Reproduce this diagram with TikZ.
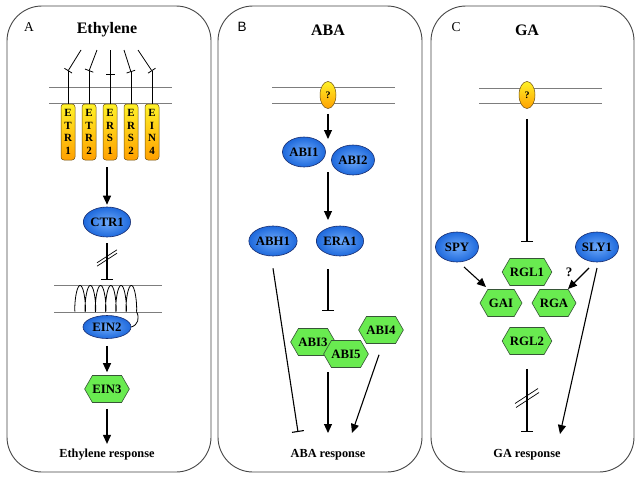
\documentclass[tikz,border=0pt]{standalone}
\usepackage{fontspec}
\setmainfont{Liberation Serif}
\newfontfamily\labsans{Liberation Sans}
\usetikzlibrary{arrows.meta,shapes.geometric,shapes.symbols,calc}
\definecolor{panelc}{RGB}{70,70,70}
\definecolor{memb}{RGB}{125,125,125}
\definecolor{blueo}{RGB}{25,45,110}
\definecolor{bluein}{RGB}{110,170,250}
\definecolor{blueout}{RGB}{30,105,220}
\definecolor{greenf}{RGB}{105,235,80}
\definecolor{greeno}{RGB}{55,85,55}
\definecolor{yelt}{RGB}{255,242,40}
\definecolor{yelm}{RGB}{255,215,10}
\definecolor{yelb}{RGB}{255,160,0}
\definecolor{yelo}{RGB}{110,80,20}
\newcommand{\lblfont}{\bfseries\fontsize{12.8}{14}\selectfont}
\tikzset{
  panel/.style={draw=panelc, line width=0.9pt, rounded corners=35pt},
  membrane/.style={draw=memb, line width=0.9pt},
  prot/.style={ellipse, draw=blueo, line width=0.6pt, inner sep=0pt,
    minimum width=43pt, minimum height=30pt, inner color=bluein,
    outer color=blueout, font=\lblfont},
  hexa/.style={signal, signal to=east and west, signal pointer angle=120,
    draw=greeno, line width=0.6pt, fill=greenf, inner sep=0pt,
    minimum width=42pt, minimum height=27pt, font=\lblfont},
  recep/.style={rectangle, rounded corners=3pt, draw=yelo, line width=0.5pt,
    top color=yelt, middle color=yelm, bottom color=yelb, minimum width=14pt,
    minimum height=56pt, inner sep=0pt, align=center,
    font=\bfseries\fontsize{11}{12.7}\selectfont},
  qmark/.style={ellipse, draw=yelo, line width=0.5pt, top color=yelt,
    middle color=yelm, bottom color=yelb, minimum width=16pt, minimum height=27pt,
    inner sep=0pt, font=\bfseries\fontsize{10}{12}\selectfont},
  arr/.style={line width=1.1pt, -{Triangle[length=9pt,width=8pt]}},
  inh/.style={line width=1.1pt, -{Bar[width=12pt,line width=1.1pt]}},
  thininh/.style={line width=0.8pt, -{Bar[width=9pt,line width=0.8pt]}},
  conn/.style={line width=0.8pt},
  heading/.style={font=\bfseries\fontsize{16}{18}\selectfont},
  plabel/.style={font=\fontsize{13.5}{15}\selectfont},
  resp/.style={font=\bfseries\fontsize{12.3}{14}\selectfont}
}
\begin{document}
\begin{tikzpicture}[x=1pt,y=-1pt]
\useasboundingbox (0,0) rectangle (640,479);
\fill[white] (0,0) rectangle (640,479);

% ---------- panels
\draw[panel] (7,6) rectangle (211,472);
\draw[panel] (218,6) rectangle (422,472);
\draw[panel] (431,6) rectangle (634,472);

% ---------- panel A
\node[plabel] (labA) at (29,27) {A};
\node[heading] (hA) at (107,30) {Ethylene};
\draw[membrane] (49,87) -- (172,87);
\draw[membrane] (49,103) -- (172,103);
\coordinate (i1) at (81,50);  \coordinate (b1) at (68,71);
\coordinate (i2) at (97,50);  \coordinate (b2) at (89,71);
\coordinate (i3) at (110,50); \coordinate (b3) at (110,75);
\coordinate (i4) at (124,50); \coordinate (b4) at (131,72);
\coordinate (i5) at (138,50); \coordinate (b5) at (152,71);
\foreach \k in {1,...,5} {\draw[thininh] (i\k) -- (b\k);}
\node[recep] (r1) at (68,132) {E\\T\\R\\1};
\node[recep] (r2) at (89,132) {E\\T\\R\\2};
\node[recep] (r3) at (110,132) {E\\R\\S\\1};
\node[recep] (r4) at (131,132) {E\\R\\S\\2};
\node[recep] (r5) at (152,132) {E\\I\\N\\4};
\foreach \k in {1,...,5} {\draw[conn] (b\k) -- (r\k.north);}
\node[prot] (ctr) at (107,222) {CTR1};
\draw[arr] ($(r3.south)+(-3,7)$) -- ([yshift=2pt]ctr.north);
\draw[membrane] (54,285) -- (162,285);
\draw[membrane] (54,312) -- (162,312);
\coordinate (ibA) at (107,280);
\draw[inh] ($(ctr.south)+(0,6)$) -- (ibA);
\coordinate (slA) at (107,258);
\draw[line width=0.7pt] ($(slA)+(-10,4.8)$) -- ($(slA)+(10,-8.2)$);
\draw[line width=0.7pt] ($(slA)+(-10,8.2)$) -- ($(slA)+(10,-4.8)$);
\draw[line width=0.8pt] plot[domain=0:37.699, samples=400, smooth]
  ({75+1.63*\x-2.1*sin(\x r)}, {298.5+13*cos(\x r)});
\coordinate (ce) at (136.45,311.5);
\node[prot, minimum width=48pt, minimum height=23pt] (ein2) at (107,327) {EIN2};
\draw[line width=0.8pt] (ce) .. controls (140,318) and (138,325) .. (ein2.east);
\node[hexa] (ein3) at (107,389) {EIN3};
\draw[arr] ($(ein2.south)+(0,7)$) -- ([yshift=3pt]ein3.north);
\node[resp] (respA) at (107,455) {Ethylene response};
\draw[arr] ($(ein3.south)+(0,6)$) -- ([yshift=2pt]respA.north);

% ---------- panel B
\node[font=\labsans\fontsize{13.5}{15}\selectfont] (labB) at (242,27) {B};
\node[heading] (hB) at (328,30) {ABA};
\draw[membrane] (272,87) -- (395,87);
\draw[membrane] (272,103) -- (395,103);
\node[qmark] (q1) at (328,95) {?};
\node[prot] (abi1) at (304,152) {ABI1};
\node[prot] (abi2) at (353,160) {ABI2};
\coordinate (ab1) at (328,139);
\draw[arr] ($(q1.south)+(0,5)$) -- (ab1);
\node[prot] (abh1) at (273,241) {ABH1};
\node[prot] (era1) at (340,241) {ERA1};
\coordinate (ab2s) at (328,172);
\coordinate (ab2e) at (328,220);
\draw[arr] (ab2s) -- (ab2e);
\coordinate (eras) at (328,269);
\coordinate (erae) at (328,311);
\draw[inh] (eras) -- (erae);
\node[hexa] (abi3) at (313,342) {ABI3};
\node[hexa] (abi5) at (346,354) {ABI5};
\node[hexa] (abi4) at (381,330) {ABI4};
\node[resp] (respB) at (328,455) {ABA response};
\coordinate (abhe) at (298,432);
\draw[inh] ($(abh1.south)+(0,12)$) -- (abhe);
\coordinate (abr1) at (328,433);
\draw[arr] (328,372) -- (abr1);
\coordinate (abr2) at (352,433);
\draw[arr] ($(abi4.south)+(-2,11)$) -- (abr2);

% ---------- panel C
\node[plabel] (labC) at (456,27) {C};
\node[heading] (hC) at (527,30) {GA};
\draw[membrane] (479,88) -- (602,88);
\draw[membrane] (479,103) -- (602,103);
\node[qmark] (q2) at (527,95) {?};
\coordinate (gab) at (527,242);
\draw[inh] ($(q2.south)+(0,10)$) -- (gab);
\node[prot] (spy) at (457,247) {SPY};
\node[prot] (sly1) at (597,247) {SLY1};
\node[hexa] (rgl1) at (527,272) {RGL1};
\node[hexa] (gai) at (501,303) {GAI};
\node[hexa] (rga) at (554,303) {RGA};
\node[hexa] (rgl2) at (527,341) {RGL2};
\draw[arr] ($(spy)+(7,20)$) -- ($(gai)+(-15,-16)$);
\draw[arr] ($(sly1)+(-8,21)$) -- ($(rga)+(14,-14)$);
\node[font=\bfseries\fontsize{13}{15}\selectfont] (qsly) at (569,272) {?};
\node[resp] (respC) at (527,455) {GA response};
\coordinate (slyend) at (560,434);
\draw[arr] ($(sly1)+(0,21)$) -- (slyend);
\coordinate (gae) at (527,432);
\draw[inh] ($(rgl2.south)+(0,14)$) -- (gae);
\coordinate (slC) at (527,398);
\draw[line width=0.7pt] ($(slC)+(-12,5.5)$) -- ($(slC)+(11,-9.5)$);
\draw[line width=0.7pt] ($(slC)+(-11,9.5)$) -- ($(slC)+(12,-5.5)$);
\end{tikzpicture}
\end{document}
